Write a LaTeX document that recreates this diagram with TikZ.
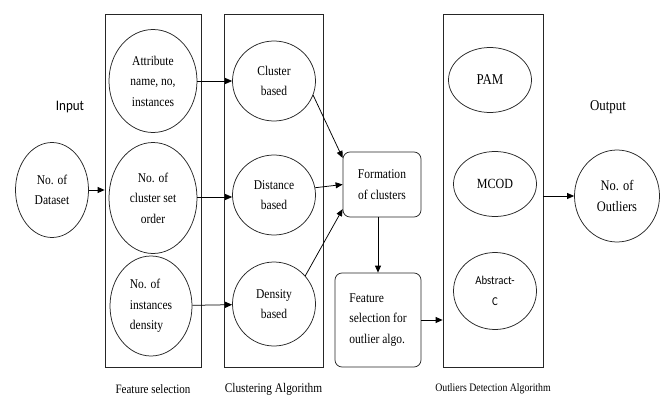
\documentclass[tikz,border=0pt]{standalone}
\usepackage{fontspec}
\setmainfont{Liberation Serif}
\newfontfamily\serfnt{Liberation Serif}[FakeStretch=0.86]
\newfontfamily\sansfnt{Carlito}[FakeStretch=0.9]
\usetikzlibrary{shapes.geometric,arrows.meta}

\begin{document}
\begin{tikzpicture}[x=1pt, y=-1pt,
        main/.style = {draw=black!85, ellipse, inner sep=0pt, align=center, font=\serfnt\fontsize{13.4}{20.5}\selectfont},
        grp/.style = {draw=black!85, minimum height=353pt},
        rbox/.style = {draw=black!85, rounded corners=7pt, inner sep=0pt, font=\serfnt\fontsize{13.4}{20.5}\selectfont},
        line width=0.75pt,
        >={Triangle[length=7pt, width=6pt]}]
        \useasboundingbox (0,0) rectangle (661,396);
        % group boxes
        \node[grp, minimum width=96pt] (fs) at (153,190.5) {};
        \node[grp, minimum width=99pt] (ca) at (273.5,190.5) {};
        \node[grp, minimum width=100pt] (od) at (493,190.5) {};
        % input and output
        \node[main, minimum width=73pt, minimum height=95pt] (data) at (52,190) {No. of\\Dataset};
        \node[main, minimum width=85pt, minimum height=92pt, font=\serfnt\fontsize{14.5}{20.5}\selectfont] (out) at (617,196) {No. of\\Outliers};
        \node[font=\sansfnt\fontsize{14.5}{16}\selectfont] (inlbl) at (70,107) {Input};
        \node[font=\serfnt\fontsize{15}{16}\selectfont] (outlbl) at (608,107) {Output};
        % feature selection
        \node[main, minimum width=88pt, minimum height=103pt] (attr) at (153,81) {Attribute\\name, no,\\instances};
        \node[main, minimum width=88pt, minimum height=111pt] (order) at (153,198) {No. of\\cluster set\\order};
        \node[main, minimum width=82pt, minimum height=100pt, align=left] (inst) at (151,306) {No. of\\instances\\density};
        % clustering
        \node[main, minimum width=83pt, minimum height=80pt] (cb) at (274,81) {Cluster\\based};
        \node[main, minimum width=83pt, minimum height=80pt] (db) at (274,195) {Distance\\based};
        \node[main, minimum width=83pt, minimum height=84pt] (den) at (274,304) {Density\\based};
        % middle boxes
        \node[rbox, minimum width=78pt, minimum height=65pt, align=center] (form) at (382,184.5) {Formation\\of clusters};
        \node[rbox, minimum width=86pt, minimum height=94pt, align=left] (feat) at (378,320) {Feature\\selection for\\outlier algo.};
        % outlier algorithms
        \node[main, minimum width=83pt, minimum height=65pt, font=\serfnt\fontsize{15}{20}\selectfont] (pam) at (490,80) {PAM};
        \node[main, minimum width=83pt, minimum height=65pt, font=\serfnt\fontsize{14}{20}\selectfont] (mcod) at (495,184) {MCOD};
        \node[main, minimum width=83pt, minimum height=77pt, font=\sansfnt\fontsize{12}{20.5}\selectfont] (abs) at (495,291) {Abstract-\\C};
        % bottom labels
        \node[font=\serfnt\fontsize{12.8}{14}\selectfont] (fslbl) at (153,389) {Feature selection};
        \node[font=\serfnt\fontsize{13.2}{14}\selectfont] (calbl) at (273.5,389) {Clustering Algorithm};
        \node[font=\serfnt\fontsize{11.4}{14}\selectfont] (odlbl) at (493,389) {Outliers Detection Algorithm};
        % connectors
        \draw[->] (data) -- (data -| fs.west);
        \draw[->] (attr) -- (cb);
        \draw[->] (order.east |- 0,197) -- (db.west |- 0,197);
        \draw[->] (inst) -- (den);
        \draw[->] (cb.-20) -- (form.146);
        \draw[->] (db.10) -- (form.west);
        \draw[->] (den.42) -- (form.212);
        \draw[->] (form.south -| feat.north) -- (feat.north);
        \draw[->] (feat.east) -- (feat.east -| od.west);
        \draw[->] (od.east |- out) -- (out);
    \end{tikzpicture}
\end{document}
